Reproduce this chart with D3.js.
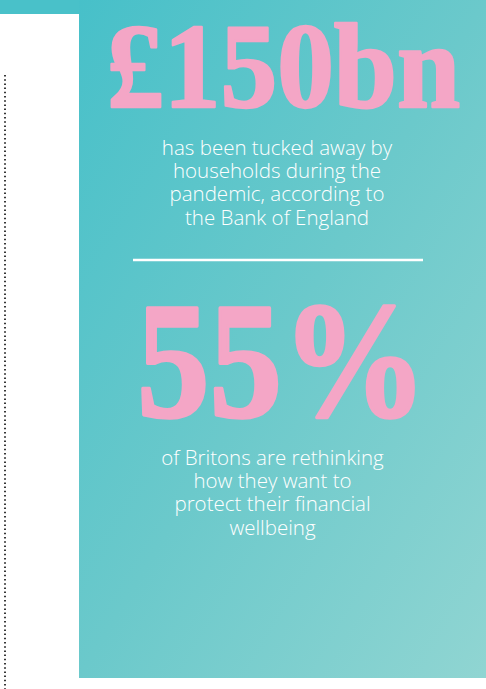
<!DOCTYPE html>
<html>
<head>
<meta charset="utf-8">
<script src="https://cdn.jsdelivr.net/npm/d3@7"></script>
<style>
  html, body { margin: 0; padding: 0; background: #fff; }
  svg { display: block; }
</style>
</head>
<body>
<svg id="screen" width="486" height="689"></svg>
<script>
// figures shown on the panel, and the caption lines under each
const figures = ['£150bn', '55%'];
const captionA = ['has been tucked away by', 'households during the', 'pandemic, according to', 'the Bank of England'];
const captionB = ['of Britons are rethinking', 'how they want to', 'protect their financial', 'wellbeing'];

const W = 486, H = 689;
const pink = '#f4a6c6';
const svg = d3.select('#screen');

const defs = svg.append('defs');
const grad = defs.append('linearGradient')
  .attr('id', 'teal')
  .attr('x1', 0).attr('y1', 0)
  .attr('x2', 1).attr('y2', 1);
grad.append('stop').attr('offset', 0).attr('stop-color', '#47c0c9');
grad.append('stop').attr('offset', 0.5).attr('stop-color', '#6bc9cb');
grad.append('stop').attr('offset', 1).attr('stop-color', '#90d5d2');

// teal strip along the top, then the main panel
svg.append('rect')
  .attr('x', 0).attr('y', 0).attr('width', W).attr('height', 14)
  .attr('fill', '#49c1c9');
svg.append('rect')
  .attr('x', 79).attr('y', 0).attr('width', W - 79).attr('height', 678)
  .attr('fill', 'url(#teal)');

// dotted rule in the white margin
svg.append('line')
  .attr('x1', 5).attr('x2', 5).attr('y1', 75).attr('y2', H)
  .attr('stroke', '#222')
  .attr('stroke-width', 1.8)
  .attr('stroke-dasharray', '1.5,2.7');

// big numbers
const big = [
  {text: figures[0], x: 107, y: 107, size: 120, len: 353, sw: 2.5},
  {text: figures[1], x: 137, y: 416, size: 166, len: 290, sw: 3.5}
];
svg.selectAll('text.big')
  .data(big)
  .enter()
  .append('text')
  .classed('big', true)
  .attr('x', d => d.x)
  .attr('y', d => d.y)
  .attr('textLength', d => d.len)
  .attr('lengthAdjust', 'spacingAndGlyphs')
  .attr('font-family', '"Liberation Serif", "DejaVu Serif", serif')
  .attr('font-weight', 'bold')
  .attr('font-size', d => d.size)
  .attr('fill', pink)
  .attr('stroke', pink)
  .attr('stroke-width', d => d.sw)
  .attr('stroke-linejoin', 'round')
  .text(d => d.text);

// divider
svg.append('line')
  .attr('x1', 133).attr('x2', 423).attr('y1', 260).attr('y2', 260)
  .attr('stroke', '#fff')
  .attr('stroke-width', 2.5);

// each caption is one text block, wrapped with tspans
const captions = [
  {lines: captionA, cx: 277, y0: 155},
  {lines: captionB, cx: 272.5, y0: 465}
];
svg.selectAll('text.caption')
  .data(captions)
  .enter()
  .append('text')
  .classed('caption', true)
  .attr('y', d => d.y0)
  .attr('text-anchor', 'middle')
  .attr('font-family', '"Open Sans", Lato, sans-serif')
  .attr('font-weight', 300)
  .attr('font-size', 20.5)
  .attr('fill', '#fff')
  .each(function (d) {
    d3.select(this).selectAll('tspan')
      .data(d.lines)
      .enter()
      .append('tspan')
      .attr('x', d.cx)
      .attr('dy', (_, i) => i === 0 ? 0 : 23.2)
      .text(l => l);
  });
</script>
</body>
</html>
